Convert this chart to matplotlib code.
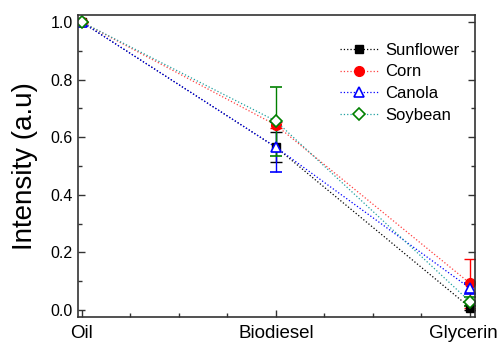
import matplotlib.pyplot as plt
from matplotlib.ticker import MultipleLocator

plt.rcParams['font.family'] = ['Liberation Sans', 'DejaVu Sans']

stages = ['Oil', 'Biodiesel', 'Glycerin']
x = [0, 1, 2]

sunflower = [1.0, 0.565, 0.008]
sunflower_err = [0.0, 0.053, 0.01]
corn = [1.0, 0.642, 0.092]
corn_err = [0.0, 0.01, 0.084]
canola = [1.0, 0.565, 0.075]
canola_err = [0.0, 0.087, 0.02]
soybean = [1.0, 0.656, 0.028]
soybean_err = [0.0, 0.12, 0.015]

fig = plt.figure(figsize=(5.02, 3.45), dpi=100)
ax = fig.add_axes([0.155, 0.081, 0.791, 0.876])

eb1 = ax.errorbar(x, sunflower, yerr=sunflower_err, color='black', ls=':', lw=0.9,
                  marker='s', ms=6, mfc='black', mec='black', ecolor='black',
                  elinewidth=1, capsize=4)
eb2 = ax.errorbar(x, corn, yerr=corn_err, color='#ff4040', ls=':', lw=0.9,
                  marker='o', ms=7, mfc='red', mec='red', ecolor='red',
                  elinewidth=1, capsize=4)
eb3 = ax.errorbar(x, canola, yerr=canola_err, color='blue', ls=':', lw=0.9,
                  marker='^', ms=7, mfc='white', mec='blue', mew=1.2, ecolor='blue',
                  elinewidth=1, capsize=4)
eb4 = ax.errorbar(x, soybean, yerr=soybean_err, color='#20a0a0', ls=':', lw=0.9,
                  marker='D', ms=6, mfc='white', mec='green', mew=1.2, ecolor='green',
                  elinewidth=1, capsize=4)

ax.set_xlim(-0.02, 2.025)
ax.set_ylim(-0.025, 1.025)
ax.set_xticks(x)
ax.set_xticklabels([])
ax.xaxis.set_minor_locator(MultipleLocator(0.25))
ax.yaxis.set_major_locator(MultipleLocator(0.2))
ax.yaxis.set_minor_locator(MultipleLocator(0.1))
ax.yaxis.set_major_formatter(plt.FormatStrFormatter('%.1f'))

# category labels drawn by hand so the last one can sit a bit left and stay in frame
shift = [0.0, 0.0, -0.035]
for xi, name, dx in zip(x, stages, shift):
    ax.text(xi + dx, -0.025, name, transform=ax.get_xaxis_transform(),
            ha='center', va='top', fontsize=13.5)

ax.tick_params(which='both', direction='in', right=True, top=False,
               colors='#333333', labelcolor='black')
ax.tick_params(axis='y', labelsize=11.5)
ax.tick_params(which='major', length=5, width=1)
ax.tick_params(which='minor', length=3, width=1)
for s in ax.spines.values():
    s.set_linewidth(1.2)
    s.set_color('#333333')

ax.set_ylabel('Intensity (a.u)', fontsize=20, labelpad=9)

# legend shows only line + marker, no error bars
handles = [eb1.lines[0], eb2.lines[0], eb3.lines[0], eb4.lines[0]]
labels = ['Sunflower', 'Corn', 'Canola', 'Soybean']
ax.legend(handles, labels, loc='upper left', bbox_to_anchor=(0.661, 0.9),
          bbox_transform=fig.transFigure, frameon=False, borderpad=0,
          fontsize=12, handlelength=2.3, handletextpad=0.4, labelspacing=0.4)

fig.savefig('out.png', dpi=100)
